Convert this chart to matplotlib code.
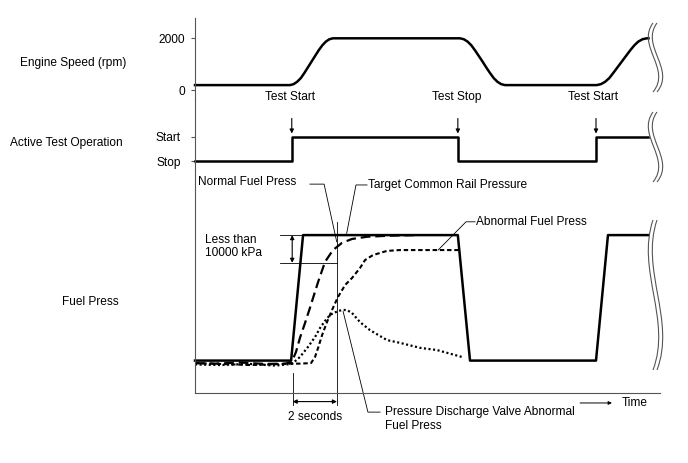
import matplotlib.pyplot as plt
from matplotlib.path import Path
from matplotlib.patches import PathPatch
from matplotlib.transforms import Affine2D

plt.rcParams['font.family'] = ['Liberation Sans', 'DejaVu Sans']
plt.rcParams['font.size'] = 8.6
plt.rcParams['lines.scale_dashes'] = False

W, H = 688, 463

# time axis in seconds, shared by all three panels
t_max = 21.0

# engine speed (rpm)
speed_t = [0,
           4.29, 4.45, 4.61, 4.78, 4.94, 5.10, 5.26, 5.42, 5.58, 5.75, 5.91, 6.07, 6.23,
           11.97, 12.14, 12.31, 12.48, 12.65, 12.82, 12.99, 13.15, 13.32, 13.49, 13.66, 13.83, 14.0,
           18.14, 18.33, 18.52, 18.71, 18.89, 19.08, 19.27, 19.46, 19.65, 19.84, 20.02, 20.21, 20.40,
           20.48]
speed_rpm = [200,
             200, 236, 326, 470, 668, 884, 1100, 1316, 1532, 1730, 1874, 1964, 2000,
             2000, 1964, 1874, 1730, 1532, 1316, 1100, 884, 668, 470, 326, 236, 200,
             200, 236, 326, 470, 668, 884, 1100, 1316, 1532, 1730, 1874, 1964, 2000,
             2000]
speed_ticks = [0, 2000]

# active test operation (0 = Stop, 1 = Start)
test_t = [0, 4.37, 4.37, 11.87, 11.87, 18.11, 18.11, 20.48]
test_state = [0, 0, 1, 1, 0, 0, 1, 1]
switch_t = [4.37, 11.87, 18.11]
event_labels = ['Test Start', 'Test Stop', 'Test Start']
event_label_t = [4.31, 11.84, 17.99]

# fuel pressure (MPa)
target_t = [0, 4.34, 4.88, 11.87, 12.42, 18.11, 18.65, 20.48]
target_p = [11.7, 11.7, 57.0, 57.0, 11.7, 11.7, 57.0, 57.0]

normal_t = [0, 0.90, 2.03, 3.16, 4.07, 4.37, 4.56, 4.74, 4.97, 5.19, 5.56,
            5.87, 6.23, 6.64, 7.09, 7.77, 8.81, 10.03]
normal_p = [10.8, 10.6, 11.0, 10.5, 10.6, 11.2, 14.8, 19.9, 25.3, 30.7, 40.1,
            47.3, 51.6, 54.2, 55.6, 56.4, 56.8, 57.0]

abnormal_t = [0, 1.13, 2.48, 3.39, 4.34, 4.74, 5.24, 5.42, 5.56, 5.74, 5.96,
              6.19, 6.46, 6.78, 7.09, 7.45, 7.68, 8.04, 8.67, 9.26, 11.88]
abnormal_p = [10.8, 10.5, 10.1, 10.3, 10.6, 10.6, 10.8, 13.0, 16.3, 20.9, 25.6,
              30.0, 34.7, 39.0, 41.5, 45.1, 48.0, 49.8, 51.3, 51.6, 51.6]

discharge_t = [0, 1.13, 2.48, 3.61, 4.38, 4.74, 5.10, 5.42, 5.65, 5.87, 6.10,
               6.46, 6.69, 6.87, 7.09, 7.45, 7.90, 8.67, 9.26, 10.16, 10.93, 12.06]
discharge_p = [10.3, 10.1, 10.5, 9.9, 10.5, 13.0, 16.6, 20.2, 23.5, 26.0, 28.2,
               29.6, 30.0, 29.9, 28.9, 25.6, 22.7, 19.1, 18.1, 16.3, 15.5, 13.0]

fig = plt.figure(figsize=(W / 100, H / 100), dpi=100)
px = Affine2D().scale(1 / W, -1 / H).translate(0, 1) + fig.transFigure


def panel(top, bottom, ylim):
    ax = fig.add_axes([195 / W, 1 - bottom / H, (660 - 195) / W, (bottom - top) / H])
    ax.set_xlim(0, t_max)
    ax.set_ylim(*ylim)
    ax.patch.set_visible(False)
    for side in ['top', 'right', 'bottom']:
        ax.spines[side].set_visible(False)
    ax.spines['left'].set_color('#555555')
    ax.spines['left'].set_linewidth(0.8)
    ax.set_xticks([])
    ax.tick_params(axis='y', direction='out', length=3, width=0.8, color='#555555')
    return ax


ax_s = panel(18, 100, (-373, 2781))
ax_a = panel(100, 170, (-0.37, 2.51))
ax_f = panel(170, 393, (0, 80.5))
ax_f.spines['bottom'].set_visible(True)
ax_f.spines['bottom'].set_color('#555555')
ax_f.spines['bottom'].set_linewidth(0.8)
ax_f.set_yticks([])

# engine speed
ax_s.plot(speed_t, speed_rpm, color='black', lw=1.8, clip_on=False, solid_joinstyle='round')
ax_s.set_yticks(speed_ticks)
ax_s.set_yticklabels([str(v) for v in speed_ticks])
ax_s.tick_params(axis='y', pad=4)
for lab, tt in zip(event_labels, event_label_t):
    ax_s.text(tt, -258, lab, ha='center', va='center')

# active test
ax_a.plot(test_t, test_state, color='black', lw=1.8, clip_on=False)
ax_a.set_yticks([0, 1])
ax_a.set_yticklabels(['Stop', 'Start'])
ax_a.tick_params(axis='y', pad=7)
for tt in switch_t:
    ax_a.annotate('', xy=(tt, 1.13), xytext=(tt, 1.75),
                  arrowprops=dict(arrowstyle='-|>', color='black', lw=0.8,
                                  mutation_scale=6, shrinkA=0, shrinkB=0))

# fuel pressure
ax_f.plot(target_t, target_p, color='black', lw=1.8, clip_on=False)
ax_f.plot(normal_t, normal_p, color='black', lw=1.6, dashes=(7, 3.5))
ax_f.plot(abnormal_t, abnormal_p, color='black', lw=1.5, dashes=(3.2, 2))
ax_f.plot(discharge_t, discharge_p, color='black', lw=1.6, dashes=(1.5, 1.8))

thin = dict(color='black', lw=0.6, clip_on=False)
# "less than 10000 kPa" band
ax_f.plot([3.84, 4.88], [57.0, 57.0], **thin)
ax_f.plot([3.84, 6.41], [47.0, 47.0], **thin)
ax_f.annotate('', xy=(4.39, 57.0), xytext=(4.39, 47.0),
              arrowprops=dict(arrowstyle='<|-|>', color='black', lw=0.8,
                              mutation_scale=6, shrinkA=0, shrinkB=0))
ax_f.text(0.45, 55.2, 'Less than', ha='left', va='center')
ax_f.text(0.45, 50.4, '10000 kPa', ha='left', va='center')

# 2 seconds marker
ax_f.plot([6.41, 6.41], [61.7, -4.3], **thin)
ax_f.plot([4.41, 4.41], [7.2, -4.3], **thin)
ax_f.annotate('', xy=(4.41, -3.1), xytext=(6.41, -3.1),
              arrowprops=dict(arrowstyle='<|-|>', color='black', lw=0.8,
                              mutation_scale=6, shrinkA=0, shrinkB=0),
              annotation_clip=False)
ax_f.text(5.42, -8.6, '2 seconds', ha='center', va='center')

# time arrow
ax_f.annotate('', xy=(18.83, -3.6), xytext=(17.39, -3.6),
              arrowprops=dict(arrowstyle='-|>', color='black', lw=0.7,
                              mutation_scale=5, shrinkA=0, shrinkB=0),
              annotation_clip=False)
ax_f.text(19.29, -3.6, 'Time', ha='left', va='center')

# leader lines and labels
ax_f.plot([5.19, 5.83, 6.40], [75.4, 75.4, 54.6], **thin)
ax_f.text(0.14, 76.3, 'Normal Fuel Press', ha='left', va='center')
ax_f.plot([7.77, 7.27, 6.85], [75.1, 75.1, 57.6], **thin)
ax_f.text(7.80, 75.1, 'Target Common Rail Pressure', ha='left', va='center')
ax_f.plot([12.65, 12.24, 10.98], [61.8, 61.8, 51.6], **thin)
ax_f.text(12.68, 61.8, 'Abnormal Fuel Press', ha='left', va='center')
ax_f.plot([8.36, 7.81, 6.69], [-6.9, -6.9, 29.4], **thin)
ax_f.text(8.58, -6.9, 'Pressure Discharge Valve Abnormal', ha='left', va='center')
ax_f.text(8.58, -12.0, 'Fuel Press', ha='left', va='center')

# row titles
fig.text(73, 63, 'Engine Speed (rpm)', ha='center', va='center', transform=px)
fig.text(66, 143, 'Active Test Operation', ha='center', va='center', transform=px)
fig.text(90, 302, 'Fuel Press', ha='center', va='center', transform=px)


# break marks at the right end of each panel
def break_mark(x, y0, y1):
    h = y1 - y0
    for dx in (0, 4):
        verts = [(x + dx, y0), (x + dx - 17, y0 + h / 3), (x + dx + 19, y0 + 2 * h / 3), (x + dx, y1)]
        path = Path(verts, [Path.MOVETO, Path.CURVE4, Path.CURVE4, Path.CURVE4])
        fig.add_artist(PathPatch(path, fill=False, edgecolor='#555555', lw=0.8, transform=px))


break_mark(653, 23, 92)
break_mark(653, 112, 182)
break_mark(653, 220, 370)

fig.savefig('out.png', dpi=100)
